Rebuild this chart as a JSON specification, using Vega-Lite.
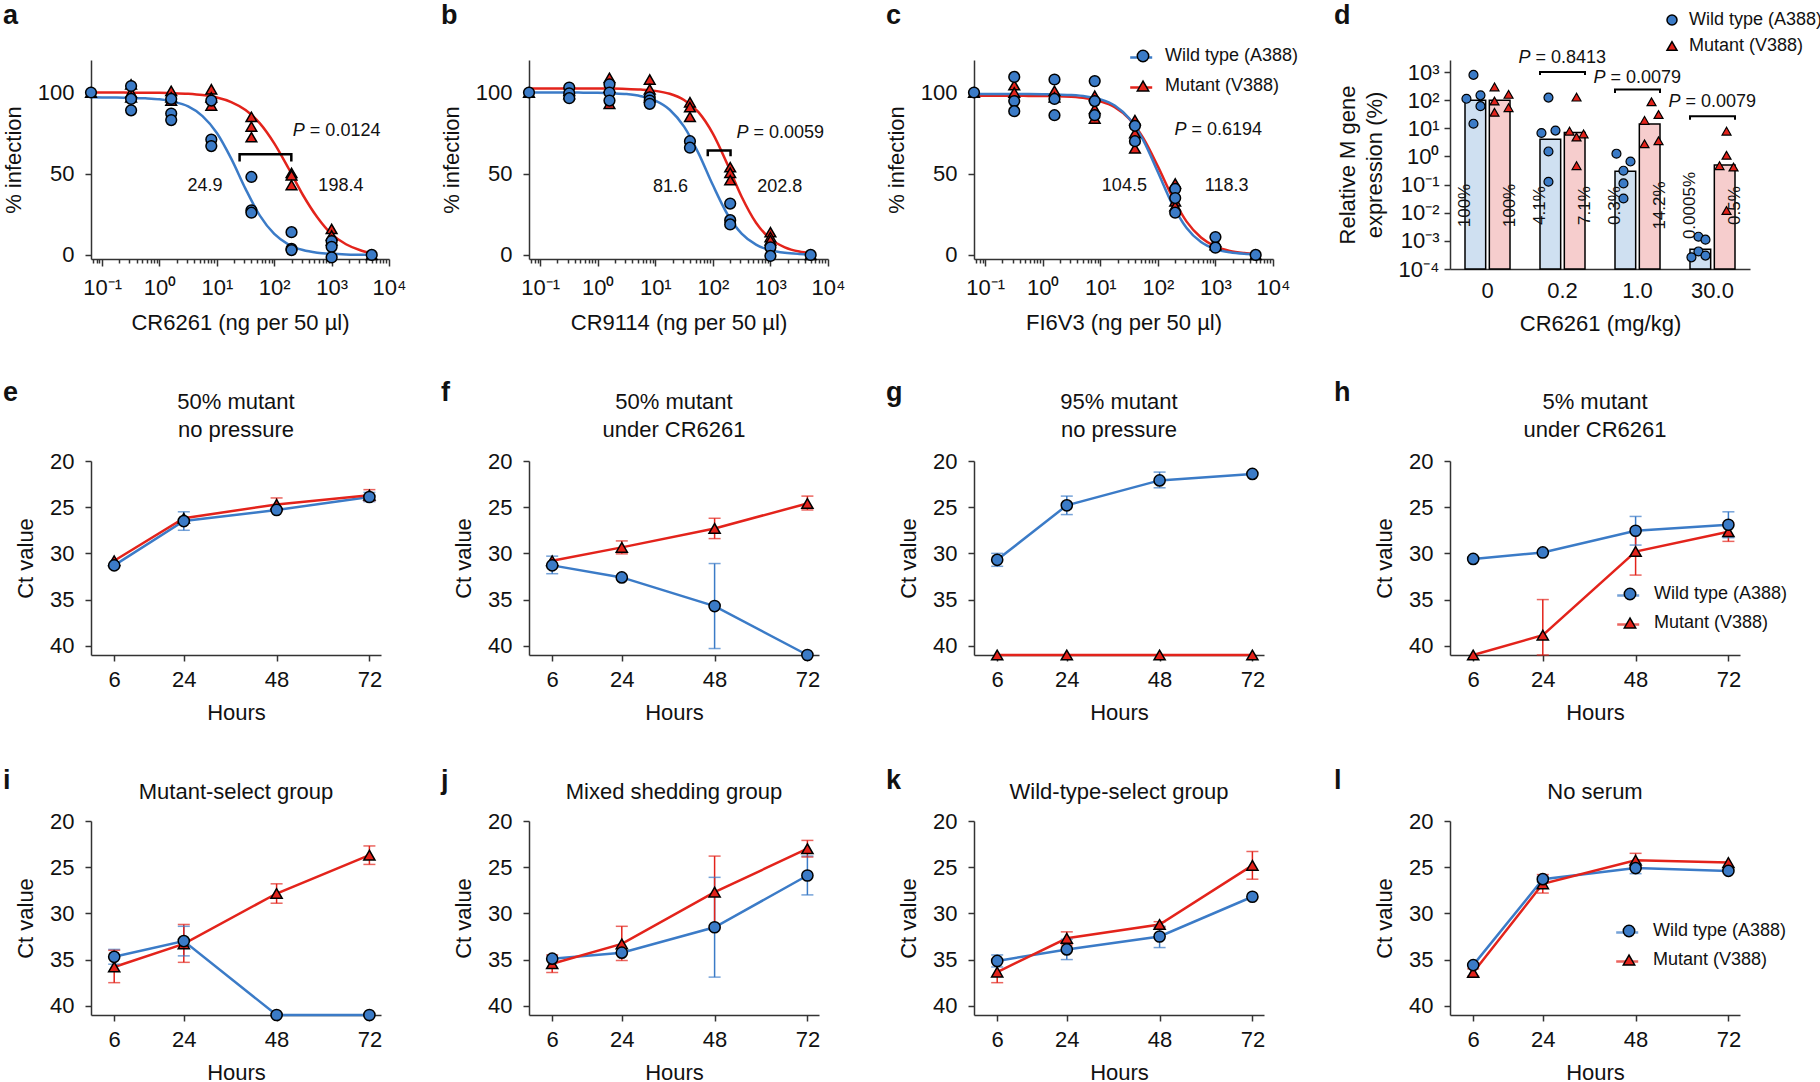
{
"$schema": "https://vega.github.io/schema/vega-lite/v6.json",
"background": "white",
"padding": {"left": 2, "top": 2, "right": 0, "bottom": 0},
"autosize": {"type": "pad"},
"columns": 11,
"spacing": {"row": 0, "column": 0},
"bounds": "flush",
"align": "each",
"resolve": {"scale": {"color": "independent", "fill": "independent", "shape": "independent", "xOffset": "independent"}},
"config": {
  "font": "Liberation Sans",
  "view": {"stroke": null},
  "range": {"category": ["#3b7bc7", "#e3231b"], "symbol": ["circle", "triangle-up"]},
  "axis": {"grid": false, "labelFontSize": 22, "titleFontSize": 22, "titleFontWeight": "normal", "labelColor": "#111", "titleColor": "#111", "domainColor": "#333", "tickColor": "#333", "domainWidth": 1.5, "tickWidth": 1.5, "tickSize": 6, "labelFlush": false, "labelOverlap": false, "labelPadding": 8, "titlePadding": 12},
  "axisY": {"labelPadding": 11, "titlePadding": 12},
  "title": {"fontSize": 22, "fontWeight": "normal", "color": "#111", "lineHeight": 28},
  "legend": {"labelFontSize": 18, "labelColor": "#111", "padding": 0},
  "text": {"color": "#111"}
},
"datasets": {
  "curves": [
    {"p":"a","s":"V388","x":0.064,"y":100},{"p":"a","s":"V388","x":0.1,"y":100},{"p":"a","s":"V388","x":0.178,"y":100},{"p":"a","s":"V388","x":0.316,"y":99.9},{"p":"a","s":"V388","x":0.562,"y":99.9},{"p":"a","s":"V388","x":1,"y":99.8},{"p":"a","s":"V388","x":1.78,"y":99.6},{"p":"a","s":"V388","x":3.16,"y":99.2},{"p":"a","s":"V388","x":5.62,"y":98.4},{"p":"a","s":"V388","x":10,"y":96.9},{"p":"a","s":"V388","x":17.8,"y":94.1},{"p":"a","s":"V388","x":31.6,"y":89.2},{"p":"a","s":"V388","x":56.2,"y":81.0},{"p":"a","s":"V388","x":100,"y":68.7},{"p":"a","s":"V388","x":178,"y":53.2},{"p":"a","s":"V388","x":316,"y":36.9},{"p":"a","s":"V388","x":562,"y":23.2},{"p":"a","s":"V388","x":1000,"y":12.8},{"p":"a","s":"V388","x":1780,"y":6.6},{"p":"a","s":"V388","x":3160,"y":2.9},{"p":"a","s":"V388","x":5000,"y":1.0},
    {"p":"a","s":"A388","x":0.064,"y":97},{"p":"a","s":"A388","x":0.1,"y":96.9},{"p":"a","s":"A388","x":0.178,"y":96.9},{"p":"a","s":"A388","x":0.316,"y":96.7},{"p":"a","s":"A388","x":0.562,"y":96.4},{"p":"a","s":"A388","x":1,"y":95.8},{"p":"a","s":"A388","x":1.78,"y":94.3},{"p":"a","s":"A388","x":3.16,"y":91.4},{"p":"a","s":"A388","x":5.62,"y":85.5},{"p":"a","s":"A388","x":10,"y":75.1},{"p":"a","s":"A388","x":17.8,"y":59.3},{"p":"a","s":"A388","x":31.6,"y":40.7},{"p":"a","s":"A388","x":56.2,"y":24.2},{"p":"a","s":"A388","x":100,"y":12.9},{"p":"a","s":"A388","x":178,"y":6.4},{"p":"a","s":"A388","x":316,"y":3.0},{"p":"a","s":"A388","x":562,"y":1.4},{"p":"a","s":"A388","x":1000,"y":0.7},{"p":"a","s":"A388","x":1780,"y":0.3},{"p":"a","s":"A388","x":3160,"y":0.1},{"p":"a","s":"A388","x":5000,"y":0.1},
    {"p":"b","s":"V388","x":0.064,"y":102.5},{"p":"b","s":"V388","x":0.1,"y":102.5},{"p":"b","s":"V388","x":0.178,"y":102.5},{"p":"b","s":"V388","x":0.316,"y":102.4},{"p":"b","s":"V388","x":0.562,"y":102.4},{"p":"b","s":"V388","x":1,"y":102.4},{"p":"b","s":"V388","x":1.78,"y":102.4},{"p":"b","s":"V388","x":3.16,"y":102.2},{"p":"b","s":"V388","x":5.62,"y":101.8},{"p":"b","s":"V388","x":10,"y":101.0},{"p":"b","s":"V388","x":17.8,"y":99.2},{"p":"b","s":"V388","x":31.6,"y":95.4},{"p":"b","s":"V388","x":56.2,"y":87.9},{"p":"b","s":"V388","x":100,"y":74.7},{"p":"b","s":"V388","x":178,"y":56.0},{"p":"b","s":"V388","x":316,"y":35.8},{"p":"b","s":"V388","x":562,"y":19.8},{"p":"b","s":"V388","x":1000,"y":9.9},{"p":"b","s":"V388","x":1780,"y":4.7},{"p":"b","s":"V388","x":3160,"y":2.1},{"p":"b","s":"V388","x":5000,"y":1.1},
    {"p":"b","s":"A388","x":0.064,"y":100},{"p":"b","s":"A388","x":0.1,"y":100},{"p":"b","s":"A388","x":0.178,"y":100},{"p":"b","s":"A388","x":0.316,"y":100},{"p":"b","s":"A388","x":0.562,"y":99.9},{"p":"b","s":"A388","x":1,"y":99.8},{"p":"b","s":"A388","x":1.78,"y":99.5},{"p":"b","s":"A388","x":3.16,"y":99.0},{"p":"b","s":"A388","x":5.62,"y":97.7},{"p":"b","s":"A388","x":10,"y":95.0},{"p":"b","s":"A388","x":17.8,"y":89.4},{"p":"b","s":"A388","x":31.6,"y":79.0},{"p":"b","s":"A388","x":56.2,"y":62.7},{"p":"b","s":"A388","x":100,"y":43.0},{"p":"b","s":"A388","x":178,"y":25.2},{"p":"b","s":"A388","x":316,"y":13.1},{"p":"b","s":"A388","x":562,"y":6.3},{"p":"b","s":"A388","x":1000,"y":2.9},{"p":"b","s":"A388","x":1780,"y":1.3},{"p":"b","s":"A388","x":3160,"y":0.6},{"p":"b","s":"A388","x":5000,"y":0.3},
    {"p":"c","s":"V388","x":0.064,"y":98},{"p":"c","s":"V388","x":0.1,"y":98},{"p":"c","s":"V388","x":0.178,"y":98},{"p":"c","s":"V388","x":0.316,"y":98},{"p":"c","s":"V388","x":0.562,"y":97.9},{"p":"c","s":"V388","x":1,"y":97.8},{"p":"c","s":"V388","x":1.78,"y":97.7},{"p":"c","s":"V388","x":3.16,"y":97.3},{"p":"c","s":"V388","x":5.62,"y":96.4},{"p":"c","s":"V388","x":10,"y":94.6},{"p":"c","s":"V388","x":17.8,"y":91.0},{"p":"c","s":"V388","x":31.6,"y":83.9},{"p":"c","s":"V388","x":56.2,"y":71.7},{"p":"c","s":"V388","x":100,"y":54.5},{"p":"c","s":"V388","x":178,"y":35.8},{"p":"c","s":"V388","x":316,"y":20.5},{"p":"c","s":"V388","x":562,"y":10.7},{"p":"c","s":"V388","x":1000,"y":5.2},{"p":"c","s":"V388","x":1780,"y":2.5},{"p":"c","s":"V388","x":3160,"y":1.2},{"p":"c","s":"V388","x":5000,"y":0.6},
    {"p":"c","s":"A388","x":0.064,"y":99},{"p":"c","s":"A388","x":0.1,"y":99},{"p":"c","s":"A388","x":0.178,"y":99},{"p":"c","s":"A388","x":0.316,"y":99},{"p":"c","s":"A388","x":0.562,"y":99},{"p":"c","s":"A388","x":1,"y":98.9},{"p":"c","s":"A388","x":1.78,"y":98.7},{"p":"c","s":"A388","x":3.16,"y":98.4},{"p":"c","s":"A388","x":5.62,"y":97.6},{"p":"c","s":"A388","x":10,"y":95.8},{"p":"c","s":"A388","x":17.8,"y":92.0},{"p":"c","s":"A388","x":31.6,"y":84.1},{"p":"c","s":"A388","x":56.2,"y":70.4},{"p":"c","s":"A388","x":100,"y":51.1},{"p":"c","s":"A388","x":178,"y":31.3},{"p":"c","s":"A388","x":316,"y":16.6},{"p":"c","s":"A388","x":562,"y":7.9},{"p":"c","s":"A388","x":1000,"y":3.6},{"p":"c","s":"A388","x":1780,"y":1.6},{"p":"c","s":"A388","x":3160,"y":0.7},{"p":"c","s":"A388","x":5000,"y":0.4}
  ],
  "pts": [
    {"p":"a","s":"V388","x":0.064,"y":100},{"p":"a","s":"V388","x":0.32,"y":105},{"p":"a","s":"V388","x":0.32,"y":100},{"p":"a","s":"V388","x":0.32,"y":97},{"p":"a","s":"V388","x":1.6,"y":101},{"p":"a","s":"V388","x":1.6,"y":97},{"p":"a","s":"V388","x":1.6,"y":95},{"p":"a","s":"V388","x":8,"y":102},{"p":"a","s":"V388","x":8,"y":97},{"p":"a","s":"V388","x":8,"y":92},{"p":"a","s":"V388","x":40,"y":85},{"p":"a","s":"V388","x":40,"y":79},{"p":"a","s":"V388","x":40,"y":72.5},{"p":"a","s":"V388","x":200,"y":50.5},{"p":"a","s":"V388","x":200,"y":49},{"p":"a","s":"V388","x":200,"y":43},{"p":"a","s":"V388","x":1000,"y":16},{"p":"a","s":"V388","x":1000,"y":12},{"p":"a","s":"V388","x":1000,"y":9},{"p":"a","s":"V388","x":5000,"y":0},
    {"p":"a","s":"A388","x":0.064,"y":100},{"p":"a","s":"A388","x":0.32,"y":104},{"p":"a","s":"A388","x":0.32,"y":96},{"p":"a","s":"A388","x":0.32,"y":89},{"p":"a","s":"A388","x":1.6,"y":96},{"p":"a","s":"A388","x":1.6,"y":87},{"p":"a","s":"A388","x":1.6,"y":83},{"p":"a","s":"A388","x":8,"y":95},{"p":"a","s":"A388","x":8,"y":71},{"p":"a","s":"A388","x":8,"y":67},{"p":"a","s":"A388","x":40,"y":48},{"p":"a","s":"A388","x":40,"y":27.5},{"p":"a","s":"A388","x":40,"y":26},{"p":"a","s":"A388","x":200,"y":14},{"p":"a","s":"A388","x":200,"y":3.7},{"p":"a","s":"A388","x":200,"y":3},{"p":"a","s":"A388","x":1000,"y":8.5},{"p":"a","s":"A388","x":1000,"y":5},{"p":"a","s":"A388","x":1000,"y":-1.5},{"p":"a","s":"A388","x":5000,"y":0},
    {"p":"b","s":"V388","x":0.064,"y":100},{"p":"b","s":"V388","x":0.32,"y":101},{"p":"b","s":"V388","x":0.32,"y":99},{"p":"b","s":"V388","x":1.6,"y":109},{"p":"b","s":"V388","x":1.6,"y":103},{"p":"b","s":"V388","x":1.6,"y":93},{"p":"b","s":"V388","x":8,"y":108},{"p":"b","s":"V388","x":8,"y":102},{"p":"b","s":"V388","x":8,"y":97},{"p":"b","s":"V388","x":40,"y":94},{"p":"b","s":"V388","x":40,"y":91},{"p":"b","s":"V388","x":40,"y":85},{"p":"b","s":"V388","x":200,"y":54},{"p":"b","s":"V388","x":200,"y":50.6},{"p":"b","s":"V388","x":200,"y":46},{"p":"b","s":"V388","x":1000,"y":14},{"p":"b","s":"V388","x":1000,"y":11},{"p":"b","s":"V388","x":1000,"y":9},{"p":"b","s":"V388","x":5000,"y":0},
    {"p":"b","s":"A388","x":0.064,"y":100},{"p":"b","s":"A388","x":0.32,"y":103},{"p":"b","s":"A388","x":0.32,"y":99.5},{"p":"b","s":"A388","x":0.32,"y":96.5},{"p":"b","s":"A388","x":1.6,"y":105},{"p":"b","s":"A388","x":1.6,"y":100},{"p":"b","s":"A388","x":1.6,"y":95},{"p":"b","s":"A388","x":8,"y":97},{"p":"b","s":"A388","x":8,"y":95},{"p":"b","s":"A388","x":8,"y":93},{"p":"b","s":"A388","x":40,"y":70},{"p":"b","s":"A388","x":40,"y":66},{"p":"b","s":"A388","x":200,"y":31.6},{"p":"b","s":"A388","x":200,"y":21.4},{"p":"b","s":"A388","x":200,"y":18.8},{"p":"b","s":"A388","x":1000,"y":4.7},{"p":"b","s":"A388","x":1000,"y":-0.6},{"p":"b","s":"A388","x":5000,"y":0},
    {"p":"c","s":"V388","x":0.064,"y":100},{"p":"c","s":"V388","x":0.32,"y":104.5},{"p":"c","s":"V388","x":0.32,"y":100},{"p":"c","s":"V388","x":1.6,"y":101},{"p":"c","s":"V388","x":1.6,"y":97},{"p":"c","s":"V388","x":8,"y":98},{"p":"c","s":"V388","x":8,"y":90},{"p":"c","s":"V388","x":8,"y":84},{"p":"c","s":"V388","x":40,"y":83},{"p":"c","s":"V388","x":40,"y":75},{"p":"c","s":"V388","x":40,"y":65.6},{"p":"c","s":"V388","x":200,"y":44},{"p":"c","s":"V388","x":200,"y":33},{"p":"c","s":"V388","x":200,"y":30},{"p":"c","s":"V388","x":1000,"y":8},{"p":"c","s":"V388","x":1000,"y":6},{"p":"c","s":"V388","x":5000,"y":0},
    {"p":"c","s":"A388","x":0.064,"y":100},{"p":"c","s":"A388","x":0.32,"y":109.6},{"p":"c","s":"A388","x":0.32,"y":94.7},{"p":"c","s":"A388","x":0.32,"y":88.5},{"p":"c","s":"A388","x":1.6,"y":108},{"p":"c","s":"A388","x":1.6,"y":96},{"p":"c","s":"A388","x":1.6,"y":86},{"p":"c","s":"A388","x":8,"y":107},{"p":"c","s":"A388","x":8,"y":94.7},{"p":"c","s":"A388","x":8,"y":86},{"p":"c","s":"A388","x":40,"y":79.5},{"p":"c","s":"A388","x":40,"y":70},{"p":"c","s":"A388","x":200,"y":40.6},{"p":"c","s":"A388","x":200,"y":35},{"p":"c","s":"A388","x":200,"y":26},{"p":"c","s":"A388","x":1000,"y":11},{"p":"c","s":"A388","x":1000,"y":4.5},{"p":"c","s":"A388","x":5000,"y":0}
  ],
  "br": [
    {"p":"a","x":24.9,"y":57.5,"i":0},{"p":"a","x":24.9,"y":62,"i":1},{"p":"a","x":198.4,"y":62,"i":2},{"p":"a","x":198.4,"y":57.5,"i":3},
    {"p":"b","x":81.6,"y":60.8,"i":0},{"p":"b","x":81.6,"y":64.3,"i":1},{"p":"b","x":202.8,"y":64.3,"i":2},{"p":"b","x":202.8,"y":60.8,"i":3}
  ],
  "pv": [
    {"p":"a","x":211,"y":76.5,"t":"= 0.0124"},
    {"p":"b","x":258,"y":75,"t":"= 0.0059"},
    {"p":"c","x":195,"y":76.8,"t":"= 0.6194"}
  ],
  "ic": [
    {"p":"a","x":6.2,"y":42.4,"t":"24.9"},{"p":"a","x":1450,"y":42.4,"t":"198.4"},
    {"p":"b","x":18.3,"y":41.8,"t":"81.6"},{"p":"b","x":1450,"y":41.8,"t":"202.8"},
    {"p":"c","x":26.2,"y":42.4,"t":"104.5"},{"p":"c","x":1570,"y":42.4,"t":"118.3"}
  ],
  "bars": [
    {"g":"0","s":"A388","v":100,"lab":"100%"},{"g":"0","s":"V388","v":100,"lab":"100%"},
    {"g":"0.2","s":"A388","v":4.1,"lab":"4.1%"},{"g":"0.2","s":"V388","v":7.1,"lab":"7.1%"},
    {"g":"1.0","s":"A388","v":0.3,"lab":"0.3%"},{"g":"1.0","s":"V388","v":14.2,"lab":"14.2%"},
    {"g":"30.0","s":"A388","v":0.0005,"lab":"0.0005%"},{"g":"30.0","s":"V388","v":0.5,"lab":"0.5%"}
  ],
  "dots": [
    {"g":"0","s":"A388","k":"AC","v":790},{"g":"0","s":"A388","k":"AL","v":112},{"g":"0","s":"A388","k":"AR","v":148},{"g":"0","s":"A388","k":"AR","v":61},{"g":"0","s":"A388","k":"AC","v":14.5},
    {"g":"0.2","s":"A388","k":"AC","v":123},{"g":"0.2","s":"A388","k":"AL","v":6.8},{"g":"0.2","s":"A388","k":"AR","v":8.3},{"g":"0.2","s":"A388","k":"AC","v":1.5},{"g":"0.2","s":"A388","k":"AC","v":0.126},
    {"g":"1.0","s":"A388","k":"AL","v":1.25},{"g":"1.0","s":"A388","k":"AR","v":0.66},{"g":"1.0","s":"A388","k":"AC","v":0.31},{"g":"1.0","s":"A388","k":"AC","v":0.11},{"g":"1.0","s":"A388","k":"AC","v":0.032},
    {"g":"30.0","s":"A388","k":"AC","v":0.0014},{"g":"30.0","s":"A388","k":"AR","v":0.0011},{"g":"30.0","s":"A388","k":"AC","v":0.00042},{"g":"30.0","s":"A388","k":"AL","v":0.00026},{"g":"30.0","s":"A388","k":"AR","v":0.0003},
    {"g":"0","s":"V388","k":"VL","v":295},{"g":"0","s":"V388","k":"VR","v":160},{"g":"0","s":"V388","k":"VL","v":93},{"g":"0","s":"V388","k":"VL","v":37},{"g":"0","s":"V388","k":"VR","v":54},
    {"g":"0.2","s":"V388","k":"VC","v":128},{"g":"0.2","s":"V388","k":"VL","v":7.9},{"g":"0.2","s":"V388","k":"VR","v":6.3},{"g":"0.2","s":"V388","k":"VC","v":4.9},{"g":"0.2","s":"V388","k":"VC","v":0.47},
    {"g":"1.0","s":"V388","k":"VC","v":88},{"g":"1.0","s":"V388","k":"VL","v":19},{"g":"1.0","s":"V388","k":"VR","v":31},{"g":"1.0","s":"V388","k":"VL","v":2.8},{"g":"1.0","s":"V388","k":"VR","v":3.6},
    {"g":"30.0","s":"V388","k":"VC","v":7.9},{"g":"30.0","s":"V388","k":"VC","v":1.1},{"g":"30.0","s":"V388","k":"VL","v":0.47},{"g":"30.0","s":"V388","k":"VR","v":0.42},{"g":"30.0","s":"V388","k":"VC","v":0.012}
  ],
  "dbr": [
    {"g":"0.2","s":"A388","v":780,"i":0},{"g":"0.2","s":"A388","v":1000,"i":1},{"g":"0.2","s":"V388","v":1000,"i":2},{"g":"0.2","s":"V388","v":780,"i":3},
    {"g":"1.0","s":"A388","v":180,"i":0},{"g":"1.0","s":"A388","v":240,"i":1},{"g":"1.0","s":"V388","v":240,"i":2},{"g":"1.0","s":"V388","v":180,"i":3},
    {"g":"30.0","s":"A388","v":20,"i":0},{"g":"30.0","s":"A388","v":27,"i":1},{"g":"30.0","s":"V388","v":27,"i":2},{"g":"30.0","s":"V388","v":20,"i":3}
  ],
  "dpv": [
    {"g":"0.2","v":3240,"t":"= 0.8413"},{"g":"1.0","v":630,"t":"= 0.0079"},{"g":"30.0","v":85,"t":"= 0.0079"}
  ],
  "ct": [
    {"p":"e","s":"A388","h":6,"ct":31.3},{"p":"e","s":"A388","h":24,"ct":26.5,"lo":25.5,"hi":27.5},{"p":"e","s":"A388","h":48,"ct":25.3},{"p":"e","s":"A388","h":72,"ct":23.9,"lo":23.4,"hi":24.4},
    {"p":"e","s":"V388","h":6,"ct":30.8},{"p":"e","s":"V388","h":24,"ct":26.2},{"p":"e","s":"V388","h":48,"ct":24.7,"lo":24.0,"hi":25.4},{"p":"e","s":"V388","h":72,"ct":23.7,"lo":23.1,"hi":24.3},
    {"p":"f","s":"A388","h":6,"ct":31.3,"lo":30.3,"hi":32.2},{"p":"f","s":"A388","h":24,"ct":32.6},{"p":"f","s":"A388","h":48,"ct":35.7,"lo":31.1,"hi":40.3},{"p":"f","s":"A388","h":72,"ct":41},
    {"p":"f","s":"V388","h":6,"ct":30.8},{"p":"f","s":"V388","h":24,"ct":29.35,"lo":28.65,"hi":30.05},{"p":"f","s":"V388","h":48,"ct":27.3,"lo":26.2,"hi":28.4},{"p":"f","s":"V388","h":72,"ct":24.6,"lo":23.8,"hi":25.3},
    {"p":"g","s":"A388","h":6,"ct":30.7,"lo":30.0,"hi":31.4},{"p":"g","s":"A388","h":24,"ct":24.8,"lo":23.8,"hi":25.8},{"p":"g","s":"A388","h":48,"ct":22.1,"lo":21.2,"hi":22.9},{"p":"g","s":"A388","h":72,"ct":21.4},
    {"p":"g","s":"V388","h":6,"ct":41},{"p":"g","s":"V388","h":24,"ct":41},{"p":"g","s":"V388","h":48,"ct":41},{"p":"g","s":"V388","h":72,"ct":41},
    {"p":"h","s":"A388","h":6,"ct":30.6},{"p":"h","s":"A388","h":24,"ct":29.9},{"p":"h","s":"A388","h":48,"ct":27.55,"lo":26.0,"hi":29.1},{"p":"h","s":"A388","h":72,"ct":26.9,"lo":25.5,"hi":28.3},
    {"p":"h","s":"V388","h":6,"ct":41},{"p":"h","s":"V388","h":24,"ct":38.85,"lo":35.0,"hi":41},{"p":"h","s":"V388","h":48,"ct":29.8,"lo":27.3,"hi":32.35},{"p":"h","s":"V388","h":72,"ct":27.65,"lo":26.7,"hi":28.7},
    {"p":"i","s":"A388","h":6,"ct":34.7,"lo":33.9,"hi":35.5},{"p":"i","s":"A388","h":24,"ct":33.0,"lo":31.4,"hi":34.6},{"p":"i","s":"A388","h":48,"ct":41},{"p":"i","s":"A388","h":72,"ct":41},
    {"p":"i","s":"V388","h":6,"ct":35.8,"lo":34.0,"hi":37.5},{"p":"i","s":"V388","h":24,"ct":33.3,"lo":31.2,"hi":35.3},{"p":"i","s":"V388","h":48,"ct":27.85,"lo":26.8,"hi":28.9},{"p":"i","s":"V388","h":72,"ct":23.7,"lo":22.7,"hi":24.7},
    {"p":"j","s":"A388","h":6,"ct":34.9},{"p":"j","s":"A388","h":24,"ct":34.25},{"p":"j","s":"A388","h":48,"ct":31.5,"lo":26.1,"hi":36.9},{"p":"j","s":"A388","h":72,"ct":25.9,"lo":23.8,"hi":28.0},
    {"p":"j","s":"V388","h":6,"ct":35.45,"lo":34.5,"hi":36.4},{"p":"j","s":"V388","h":24,"ct":33.3,"lo":31.4,"hi":35.1},{"p":"j","s":"V388","h":48,"ct":27.7,"lo":23.8,"hi":31.6},{"p":"j","s":"V388","h":72,"ct":23.0,"lo":22.1,"hi":23.9},
    {"p":"k","s":"A388","h":6,"ct":35.15,"lo":34.5,"hi":35.8},{"p":"k","s":"A388","h":24,"ct":33.9,"lo":32.8,"hi":35.0},{"p":"k","s":"A388","h":48,"ct":32.5,"lo":31.4,"hi":33.7},{"p":"k","s":"A388","h":72,"ct":28.2},
    {"p":"k","s":"V388","h":6,"ct":36.35,"lo":35.2,"hi":37.5},{"p":"k","s":"V388","h":24,"ct":32.7,"lo":32.0,"hi":33.4},{"p":"k","s":"V388","h":48,"ct":31.2,"lo":30.9,"hi":31.5},{"p":"k","s":"V388","h":72,"ct":24.8,"lo":23.3,"hi":26.3},
    {"p":"l","s":"A388","h":6,"ct":35.6},{"p":"l","s":"A388","h":24,"ct":26.3,"lo":26.0,"hi":26.6},{"p":"l","s":"A388","h":48,"ct":25.1,"lo":24.6,"hi":25.7},{"p":"l","s":"A388","h":72,"ct":25.4},
    {"p":"l","s":"V388","h":6,"ct":36.4,"lo":36.0,"hi":36.8},{"p":"l","s":"V388","h":24,"ct":26.8,"lo":25.8,"hi":27.8},{"p":"l","s":"V388","h":48,"ct":24.25,"lo":23.5,"hi":25.0},{"p":"l","s":"V388","h":72,"ct":24.5}
  ]
},
"concat": [
  {"width":88,"height":199,"data":{"values":[]},"mark":"point","title":{"text":"a","anchor":"start","fontSize":27,"fontWeight":"bold","offset":30}},
  {"width":298,"height":199,
   "encoding":{
     "x":{"field":"x","type":"quantitative","scale":{"type":"log","domain":[0.064,10000],"nice":false},"axis":{"values":[0.07,0.08,0.09,0.1,0.2,0.3,0.4,0.5,0.6,0.7,0.8,0.9,1,2,3,4,5,6,7,8,9,10,20,30,40,50,60,70,80,90,100,200,300,400,500,600,700,800,900,1000,2000,3000,4000,5000,6000,7000,8000,9000,10000],"labelExpr":"datum.value == 0.1 ? '10⁻¹' : datum.value == 1 ? '10⁰' : datum.value == 10 ? '10¹' : datum.value == 100 ? '10²' : datum.value == 1000 ? '10³' : datum.value == 10000 ? '10⁴' : ''","tickSize":{"condition":{"test":"datum.value == 0.1 || datum.value == 1 || datum.value == 10 || datum.value == 100 || datum.value == 1000 || datum.value == 10000","value":7},"value":4},"labelPadding":11,"titlePadding":14,"title":"CR6261 (ng per 50 µl)"}},
     "y":{"field":"y","type":"quantitative","scale":{"domain":[-2.5,120],"nice":false,"zero":false},"axis":{"values":[0,50,100],"title":"% infection"}}},
   "layer":[
     {"data":{"values":[{}]},"mark":{"type":"rule","strokeDash":[2,2],"strokeWidth":1.5,"color":"black"},"encoding":{"x":{"datum":0.064},"x2":{"datum":10000},"y":{"datum":50}}},
     {"data":{"name":"curves"},"transform":[{"filter":"datum.p=='a'"}],"mark":{"type":"line","strokeWidth":2.5,"interpolate":"monotone"},"encoding":{"color":{"field":"s","type":"nominal","legend":null}}},
     {"data":{"name":"br"},"transform":[{"filter":"datum.p=='a'"}],"mark":{"type":"line","color":"black","strokeWidth":2.5},"encoding":{"order":{"field":"i","type":"quantitative"}}},
     {"data":{"name":"pts"},"transform":[{"filter":"datum.p=='a'"}],"mark":{"type":"point","filled":true,"size":115,"stroke":"black","strokeWidth":1.5,"opacity":1},"encoding":{"fill":{"field":"s","type":"nominal","legend":null},"shape":{"field":"s","type":"nominal","legend":null},"order":{"field":"s","type":"ordinal","sort":"descending"}}},
     {"data":{"name":"pv"},"transform":[{"filter":"datum.p=='a'"}],"mark":{"type":"text","text":"P","fontStyle":"italic","align":"left","baseline":"middle","fontSize":18}},
     {"data":{"name":"pv"},"transform":[{"filter":"datum.p=='a'"}],"mark":{"type":"text","align":"left","baseline":"middle","fontSize":18,"dx":17},"encoding":{"text":{"field":"t"}}},
     {"data":{"name":"ic"},"transform":[{"filter":"datum.p=='a'"}],"mark":{"type":"text","align":"center","baseline":"middle","fontSize":18},"encoding":{"text":{"field":"t"}}}
   ]},
  {"width":52,"height":199,"data":{"values":[]},"mark":"point"},
  {"width":88,"height":199,"data":{"values":[]},"mark":"point","title":{"text":"b","anchor":"start","fontSize":27,"fontWeight":"bold","offset":30}},
  {"width":299,"height":199,
   "encoding":{
     "x":{"field":"x","type":"quantitative","scale":{"type":"log","domain":[0.064,10000],"nice":false},"axis":{"values":[0.07,0.08,0.09,0.1,0.2,0.3,0.4,0.5,0.6,0.7,0.8,0.9,1,2,3,4,5,6,7,8,9,10,20,30,40,50,60,70,80,90,100,200,300,400,500,600,700,800,900,1000,2000,3000,4000,5000,6000,7000,8000,9000,10000],"labelExpr":"datum.value == 0.1 ? '10⁻¹' : datum.value == 1 ? '10⁰' : datum.value == 10 ? '10¹' : datum.value == 100 ? '10²' : datum.value == 1000 ? '10³' : datum.value == 10000 ? '10⁴' : ''","tickSize":{"condition":{"test":"datum.value == 0.1 || datum.value == 1 || datum.value == 10 || datum.value == 100 || datum.value == 1000 || datum.value == 10000","value":7},"value":4},"labelPadding":11,"titlePadding":14,"title":"CR9114 (ng per 50 µl)"}},
     "y":{"field":"y","type":"quantitative","scale":{"domain":[-2.5,120],"nice":false,"zero":false},"axis":{"values":[0,50,100],"title":"% infection"}}},
   "layer":[
     {"data":{"values":[{}]},"mark":{"type":"rule","strokeDash":[2,2],"strokeWidth":1.5,"color":"black"},"encoding":{"x":{"datum":0.064},"x2":{"datum":10000},"y":{"datum":50}}},
     {"data":{"name":"curves"},"transform":[{"filter":"datum.p=='b'"}],"mark":{"type":"line","strokeWidth":2.5,"interpolate":"monotone"},"encoding":{"color":{"field":"s","type":"nominal","legend":null}}},
     {"data":{"name":"br"},"transform":[{"filter":"datum.p=='b'"}],"mark":{"type":"line","color":"black","strokeWidth":2.5},"encoding":{"order":{"field":"i","type":"quantitative"}}},
     {"data":{"name":"pts"},"transform":[{"filter":"datum.p=='b'"}],"mark":{"type":"point","filled":true,"size":115,"stroke":"black","strokeWidth":1.5,"opacity":1},"encoding":{"fill":{"field":"s","type":"nominal","legend":null},"shape":{"field":"s","type":"nominal","legend":null},"order":{"field":"s","type":"ordinal","sort":"descending"}}},
     {"data":{"name":"pv"},"transform":[{"filter":"datum.p=='b'"}],"mark":{"type":"text","text":"P","fontStyle":"italic","align":"left","baseline":"middle","fontSize":18}},
     {"data":{"name":"pv"},"transform":[{"filter":"datum.p=='b'"}],"mark":{"type":"text","align":"left","baseline":"middle","fontSize":18,"dx":17},"encoding":{"text":{"field":"t"}}},
     {"data":{"name":"ic"},"transform":[{"filter":"datum.p=='b'"}],"mark":{"type":"text","align":"center","baseline":"middle","fontSize":18},"encoding":{"text":{"field":"t"}}}
   ]},
  {"width":58,"height":199,"data":{"values":[]},"mark":"point"},
  {"width":88,"height":199,"data":{"values":[]},"mark":"point","title":{"text":"c","anchor":"start","fontSize":27,"fontWeight":"bold","offset":30}},
  {"width":299,"height":199,
   "encoding":{
     "x":{"field":"x","type":"quantitative","scale":{"type":"log","domain":[0.064,10000],"nice":false},"axis":{"values":[0.07,0.08,0.09,0.1,0.2,0.3,0.4,0.5,0.6,0.7,0.8,0.9,1,2,3,4,5,6,7,8,9,10,20,30,40,50,60,70,80,90,100,200,300,400,500,600,700,800,900,1000,2000,3000,4000,5000,6000,7000,8000,9000,10000],"labelExpr":"datum.value == 0.1 ? '10⁻¹' : datum.value == 1 ? '10⁰' : datum.value == 10 ? '10¹' : datum.value == 100 ? '10²' : datum.value == 1000 ? '10³' : datum.value == 10000 ? '10⁴' : ''","tickSize":{"condition":{"test":"datum.value == 0.1 || datum.value == 1 || datum.value == 10 || datum.value == 100 || datum.value == 1000 || datum.value == 10000","value":7},"value":4},"labelPadding":11,"titlePadding":14,"title":"FI6V3 (ng per 50 µl)"}},
     "y":{"field":"y","type":"quantitative","scale":{"domain":[-2.5,120],"nice":false,"zero":false},"axis":{"values":[0,50,100],"title":"% infection"}}},
   "layer":[
     {"data":{"values":[{}]},"mark":{"type":"rule","strokeDash":[2,2],"strokeWidth":1.5,"color":"black"},"encoding":{"x":{"datum":0.064},"x2":{"datum":10000},"y":{"datum":50}}},
     {"data":{"name":"curves"},"transform":[{"filter":"datum.p=='c'"}],"mark":{"type":"line","strokeWidth":2.5,"interpolate":"monotone"},"encoding":{"color":{"field":"s","type":"nominal","legend":{"title":null,"orient":"none","legendX":154.7,"legendY":-15,"symbolType":"stroke","symbolSize":484,"symbolStrokeWidth":2.5,"rowPadding":8,"labelExpr":"''","labelOffset":13}}}},
     {"data":{"name":"pts"},"transform":[{"filter":"datum.p=='c'"}],"mark":{"type":"point","filled":true,"size":115,"stroke":"black","strokeWidth":1.5,"opacity":1},"encoding":{
        "fill":{"field":"s","type":"nominal","legend":{"title":null,"orient":"none","legendX":160,"legendY":-13,"labelExpr":"datum.label == 'A388' ? 'Wild type (A388)' : 'Mutant (V388)'","symbolSize":130,"rowPadding":12,"labelOffset":13,"encode":{"symbols":{"stroke":{"value":"black"},"strokeWidth":{"value":1.4}}}}},
        "shape":{"field":"s","type":"nominal","legend":{"title":null,"orient":"none","legendX":160,"legendY":-13,"labelExpr":"datum.label == 'A388' ? 'Wild type (A388)' : 'Mutant (V388)'","symbolSize":130,"rowPadding":12,"labelOffset":13,"encode":{"symbols":{"stroke":{"value":"black"},"strokeWidth":{"value":1.4}}}}},
        "order":{"field":"s","type":"ordinal","sort":"descending"}}},
     {"data":{"name":"pv"},"transform":[{"filter":"datum.p=='c'"}],"mark":{"type":"text","text":"P","fontStyle":"italic","align":"left","baseline":"middle","fontSize":18}},
     {"data":{"name":"pv"},"transform":[{"filter":"datum.p=='c'"}],"mark":{"type":"text","align":"left","baseline":"middle","fontSize":18,"dx":17},"encoding":{"text":{"field":"t"}}},
     {"data":{"name":"ic"},"transform":[{"filter":"datum.p=='c'"}],"mark":{"type":"text","align":"center","baseline":"middle","fontSize":18},"encoding":{"text":{"field":"t"}}}
   ]},
  {"width":61,"height":199,"data":{"values":[]},"mark":"point"},
  {"width":116,"height":199,"data":{"values":[]},"mark":"point","title":{"text":"d","anchor":"start","fontSize":27,"fontWeight":"bold","offset":30}},
  {"width":300,"height":209,
   "resolve":{"scale":{"xOffset":"independent"}},
   "encoding":{
     "x":{"field":"g","type":"nominal","scale":{"domain":["0","0.2","1.0","30.0"],"paddingInner":0.4,"paddingOuter":0.2},"axis":{"title":"CR6261 (mg/kg)","ticks":false,"labelAngle":0,"labelPadding":11,"titlePadding":12}},
     "y":{"field":"v","type":"quantitative","scale":{"type":"log","domain":[0.0001,2670],"nice":false},"axis":{"values":[1000,100,10,1,0.1,0.01,0.001,0.0001],"labelExpr":"datum.value >= 999 ? '10³' : datum.value >= 99 ? '10²' : datum.value >= 9 ? '10¹' : datum.value >= 0.9 ? '10⁰' : datum.value >= 0.09 ? '10⁻¹' : datum.value >= 0.009 ? '10⁻²' : datum.value >= 0.0009 ? '10⁻³' : '10⁻⁴'","title":["Relative M gene","expression (%)"],"titleLineHeight":27,"labelPadding":5,"titlePadding":12}}},
   "layer":[
     {"data":{"name":"bars"},"mark":{"type":"bar","stroke":"black","strokeWidth":1.5},"encoding":{"xOffset":{"field":"s","type":"nominal","scale":{"paddingInner":0.15,"paddingOuter":0}},"y2":{"datum":0.0001},"color":{"field":"s","type":"nominal","scale":{"domain":["A388","V388"],"range":["#cfe0f1","#f6cdcd"]},"legend":null}}},
     {"data":{"name":"bars"},"mark":{"type":"text","angle":270,"fontSize":17,"align":"center","baseline":"middle"},"encoding":{"xOffset":{"field":"s","type":"nominal","scale":{"paddingInner":0.15,"paddingOuter":0}},"y":{"datum":0.018},"text":{"field":"lab"}}},
     {"data":{"name":"dbr"},"mark":{"type":"line","color":"black","strokeWidth":2},"encoding":{"xOffset":{"field":"s","type":"nominal","scale":{"paddingInner":0.15,"paddingOuter":0}},"detail":{"field":"g"},"order":{"field":"i","type":"quantitative"}}},
     {"data":{"name":"dots"},"mark":{"type":"point","filled":true,"size":80,"stroke":"black","strokeWidth":1.2,"opacity":1},"encoding":{
        "xOffset":{"field":"k","type":"nominal","scale":{"domain":["AL","AC","AR","gap","VL","VC","VR"],"paddingInner":0,"paddingOuter":0.206}},
        "fill":{"field":"s","type":"nominal","legend":{"title":null,"orient":"none","legendX":213,"legendY":-49,"labelExpr":"datum.label == 'A388' ? 'Wild type (A388)' : 'Mutant (V388)'","symbolSize":100,"rowPadding":8,"labelOffset":8,"encode":{"symbols":{"stroke":{"value":"black"},"strokeWidth":{"value":1.2}}}}},
        "shape":{"field":"s","type":"nominal","legend":{"title":null,"orient":"none","legendX":213,"legendY":-49,"labelExpr":"datum.label == 'A388' ? 'Wild type (A388)' : 'Mutant (V388)'","symbolSize":100,"rowPadding":8,"labelOffset":8,"encode":{"symbols":{"stroke":{"value":"black"},"strokeWidth":{"value":1.2}}}}}}},
     {"data":{"name":"dpv"},"mark":{"type":"text","text":"P","fontStyle":"italic","align":"left","baseline":"middle","fontSize":18,"dx":-44}},
     {"data":{"name":"dpv"},"mark":{"type":"text","align":"left","baseline":"middle","fontSize":18,"dx":-27},"encoding":{"text":{"field":"t"}}}
   ]},

  {"width":1,"height":192,"data":{"values":[]},"mark":"point"},
  {"width":1,"height":192,"data":{"values":[]},"mark":"point"},
  {"width":1,"height":192,"data":{"values":[]},"mark":"point"},
  {"width":1,"height":192,"data":{"values":[]},"mark":"point"},
  {"width":1,"height":192,"data":{"values":[]},"mark":"point"},
  {"width":1,"height":192,"data":{"values":[]},"mark":"point"},
  {"width":1,"height":192,"data":{"values":[]},"mark":"point"},
  {"width":1,"height":192,"data":{"values":[]},"mark":"point"},
  {"width":1,"height":192,"data":{"values":[]},"mark":"point"},
  {"width":1,"height":192,"data":{"values":[]},"mark":"point"},
  {"width":1,"height":192,"data":{"values":[]},"mark":"point"},

  {"width":88,"height":194,"data":{"values":[]},"mark":"point","title":{"text":"e","anchor":"start","fontSize":27,"fontWeight":"bold","offset":54}},
  {"width":290,"height":194,"title":{"text":["50% mutant","no pressure"],"offset":8},"data":{"name":"ct"},
   "encoding":{"x":{"field":"h","type":"quantitative","scale":{"domain":[0,75]},"axis":{"values":[6,24,48,72],"title":"Hours"}},"y":{"field":"ct","type":"quantitative","scale":{"domain":[20,41],"reverse":true,"nice":false,"zero":false},"axis":{"values":[20,25,30,35,40],"title":"Ct value"}}},
   "layer":[
     {"data":{"values":[{}]},"mark":{"type":"rule","strokeDash":[2,2],"strokeWidth":1.5,"color":"black"},"encoding":{"x":{"datum":0},"x2":{"datum":75},"y":{"datum":40}}},
     {"transform":[{"filter":"datum.p=='e'"}],"mark":{"type":"line","strokeWidth":2.5},"encoding":{"color":{"field":"s","type":"nominal","legend":null}}},
     {"transform":[{"filter":"datum.p=='e' && isValid(datum.lo)"}],"mark":{"type":"rule","strokeWidth":1.5},"encoding":{"y":{"field":"lo","type":"quantitative"},"y2":{"field":"hi"},"color":{"field":"s","type":"nominal","legend":null}}},
     {"transform":[{"filter":"datum.p=='e' && isValid(datum.lo)"}],"mark":{"type":"tick","orient":"horizontal","size":12,"thickness":1.5},"encoding":{"y":{"field":"lo","type":"quantitative"},"color":{"field":"s","type":"nominal","legend":null}}},
     {"transform":[{"filter":"datum.p=='e' && isValid(datum.lo)"}],"mark":{"type":"tick","orient":"horizontal","size":12,"thickness":1.5},"encoding":{"y":{"field":"hi","type":"quantitative"},"color":{"field":"s","type":"nominal","legend":null}}},
     {"transform":[{"filter":"datum.p=='e'"}],"mark":{"type":"point","filled":true,"size":125,"stroke":"black","strokeWidth":1.5,"opacity":1},"encoding":{"fill":{"field":"s","type":"nominal","legend":null},"shape":{"field":"s","type":"nominal","legend":null},"order":{"field":"s","type":"ordinal","sort":"descending"}}}
   ]},
  {"width":52,"height":194,"data":{"values":[]},"mark":"point"},
  {"width":88,"height":194,"data":{"values":[]},"mark":"point","title":{"text":"f","anchor":"start","fontSize":27,"fontWeight":"bold","offset":54}},
  {"width":290,"height":194,"title":{"text":["50% mutant","under CR6261"],"offset":8},"data":{"name":"ct"},
   "encoding":{"x":{"field":"h","type":"quantitative","scale":{"domain":[0,75]},"axis":{"values":[6,24,48,72],"title":"Hours"}},"y":{"field":"ct","type":"quantitative","scale":{"domain":[20,41],"reverse":true,"nice":false,"zero":false},"axis":{"values":[20,25,30,35,40],"title":"Ct value"}}},
   "layer":[
     {"data":{"values":[{}]},"mark":{"type":"rule","strokeDash":[2,2],"strokeWidth":1.5,"color":"black"},"encoding":{"x":{"datum":0},"x2":{"datum":75},"y":{"datum":40}}},
     {"transform":[{"filter":"datum.p=='f'"}],"mark":{"type":"line","strokeWidth":2.5},"encoding":{"color":{"field":"s","type":"nominal","legend":null}}},
     {"transform":[{"filter":"datum.p=='f' && isValid(datum.lo)"}],"mark":{"type":"rule","strokeWidth":1.5},"encoding":{"y":{"field":"lo","type":"quantitative"},"y2":{"field":"hi"},"color":{"field":"s","type":"nominal","legend":null}}},
     {"transform":[{"filter":"datum.p=='f' && isValid(datum.lo)"}],"mark":{"type":"tick","orient":"horizontal","size":12,"thickness":1.5},"encoding":{"y":{"field":"lo","type":"quantitative"},"color":{"field":"s","type":"nominal","legend":null}}},
     {"transform":[{"filter":"datum.p=='f' && isValid(datum.lo)"}],"mark":{"type":"tick","orient":"horizontal","size":12,"thickness":1.5},"encoding":{"y":{"field":"hi","type":"quantitative"},"color":{"field":"s","type":"nominal","legend":null}}},
     {"transform":[{"filter":"datum.p=='f'"}],"mark":{"type":"point","filled":true,"size":125,"stroke":"black","strokeWidth":1.5,"opacity":1},"encoding":{"fill":{"field":"s","type":"nominal","legend":null},"shape":{"field":"s","type":"nominal","legend":null},"order":{"field":"s","type":"ordinal","sort":"descending"}}}
   ]},
  {"width":58,"height":194,"data":{"values":[]},"mark":"point"},
  {"width":88,"height":194,"data":{"values":[]},"mark":"point","title":{"text":"g","anchor":"start","fontSize":27,"fontWeight":"bold","offset":54}},
  {"width":290,"height":194,"title":{"text":["95% mutant","no pressure"],"offset":8},"data":{"name":"ct"},
   "encoding":{"x":{"field":"h","type":"quantitative","scale":{"domain":[0,75]},"axis":{"values":[6,24,48,72],"title":"Hours"}},"y":{"field":"ct","type":"quantitative","scale":{"domain":[20,41],"reverse":true,"nice":false,"zero":false},"axis":{"values":[20,25,30,35,40],"title":"Ct value"}}},
   "layer":[
     {"data":{"values":[{}]},"mark":{"type":"rule","strokeDash":[2,2],"strokeWidth":1.5,"color":"black"},"encoding":{"x":{"datum":0},"x2":{"datum":75},"y":{"datum":40}}},
     {"transform":[{"filter":"datum.p=='g'"}],"mark":{"type":"line","strokeWidth":2.5},"encoding":{"color":{"field":"s","type":"nominal","legend":null}}},
     {"transform":[{"filter":"datum.p=='g' && isValid(datum.lo)"}],"mark":{"type":"rule","strokeWidth":1.5},"encoding":{"y":{"field":"lo","type":"quantitative"},"y2":{"field":"hi"},"color":{"field":"s","type":"nominal","legend":null}}},
     {"transform":[{"filter":"datum.p=='g' && isValid(datum.lo)"}],"mark":{"type":"tick","orient":"horizontal","size":12,"thickness":1.5},"encoding":{"y":{"field":"lo","type":"quantitative"},"color":{"field":"s","type":"nominal","legend":null}}},
     {"transform":[{"filter":"datum.p=='g' && isValid(datum.lo)"}],"mark":{"type":"tick","orient":"horizontal","size":12,"thickness":1.5},"encoding":{"y":{"field":"hi","type":"quantitative"},"color":{"field":"s","type":"nominal","legend":null}}},
     {"transform":[{"filter":"datum.p=='g'"}],"mark":{"type":"point","filled":true,"size":125,"stroke":"black","strokeWidth":1.5,"opacity":1},"encoding":{"fill":{"field":"s","type":"nominal","legend":null},"shape":{"field":"s","type":"nominal","legend":null},"order":{"field":"s","type":"ordinal","sort":"descending"}}}
   ]},
  {"width":61,"height":194,"data":{"values":[]},"mark":"point"},
  {"width":116,"height":194,"data":{"values":[]},"mark":"point","title":{"text":"h","anchor":"start","fontSize":27,"fontWeight":"bold","offset":54}},
  {"width":290,"height":194,"title":{"text":["5% mutant","under CR6261"],"offset":8},"data":{"name":"ct"},
   "encoding":{"x":{"field":"h","type":"quantitative","scale":{"domain":[0,75]},"axis":{"values":[6,24,48,72],"title":"Hours"}},"y":{"field":"ct","type":"quantitative","scale":{"domain":[20,41],"reverse":true,"nice":false,"zero":false},"axis":{"values":[20,25,30,35,40],"title":"Ct value"}}},
   "layer":[
     {"data":{"values":[{}]},"mark":{"type":"rule","strokeDash":[2,2],"strokeWidth":1.5,"color":"black"},"encoding":{"x":{"datum":0},"x2":{"datum":75},"y":{"datum":40}}},
     {"transform":[{"filter":"datum.p=='h'"}],"mark":{"type":"line","strokeWidth":2.5},"encoding":{"color":{"field":"s","type":"nominal","legend":{"title":null,"orient":"none","legendX":165.7,"legendY":122,"symbolType":"stroke","symbolSize":484,"symbolStrokeWidth":2.5,"rowPadding":7,"labelExpr":"''","labelOffset":15}}}},
     {"transform":[{"filter":"datum.p=='h' && isValid(datum.lo)"}],"mark":{"type":"rule","strokeWidth":1.5},"encoding":{"y":{"field":"lo","type":"quantitative"},"y2":{"field":"hi"},"color":{"field":"s","type":"nominal"}}},
     {"transform":[{"filter":"datum.p=='h' && isValid(datum.lo)"}],"mark":{"type":"tick","orient":"horizontal","size":12,"thickness":1.5},"encoding":{"y":{"field":"lo","type":"quantitative"},"color":{"field":"s","type":"nominal"}}},
     {"transform":[{"filter":"datum.p=='h' && isValid(datum.lo)"}],"mark":{"type":"tick","orient":"horizontal","size":12,"thickness":1.5},"encoding":{"y":{"field":"hi","type":"quantitative"},"color":{"field":"s","type":"nominal"}}},
     {"transform":[{"filter":"datum.p=='h'"}],"mark":{"type":"point","filled":true,"size":125,"stroke":"black","strokeWidth":1.5,"opacity":1},"encoding":{
        "fill":{"field":"s","type":"nominal","legend":{"title":null,"orient":"none","legendX":171,"legendY":124,"labelExpr":"datum.label == 'A388' ? 'Wild type (A388)' : 'Mutant (V388)'","symbolSize":130,"rowPadding":11,"labelOffset":15,"encode":{"symbols":{"stroke":{"value":"black"},"strokeWidth":{"value":1.4}}}}},
        "shape":{"field":"s","type":"nominal","legend":{"title":null,"orient":"none","legendX":171,"legendY":124,"labelExpr":"datum.label == 'A388' ? 'Wild type (A388)' : 'Mutant (V388)'","symbolSize":130,"rowPadding":11,"labelOffset":15,"encode":{"symbols":{"stroke":{"value":"black"},"strokeWidth":{"value":1.4}}}}},
        "order":{"field":"s","type":"ordinal","sort":"descending"}}}
   ]},

  {"width":1,"height":166,"data":{"values":[]},"mark":"point"},
  {"width":1,"height":166,"data":{"values":[]},"mark":"point"},
  {"width":1,"height":166,"data":{"values":[]},"mark":"point"},
  {"width":1,"height":166,"data":{"values":[]},"mark":"point"},
  {"width":1,"height":166,"data":{"values":[]},"mark":"point"},
  {"width":1,"height":166,"data":{"values":[]},"mark":"point"},
  {"width":1,"height":166,"data":{"values":[]},"mark":"point"},
  {"width":1,"height":166,"data":{"values":[]},"mark":"point"},
  {"width":1,"height":166,"data":{"values":[]},"mark":"point"},
  {"width":1,"height":166,"data":{"values":[]},"mark":"point"},
  {"width":1,"height":166,"data":{"values":[]},"mark":"point"},

  {"width":88,"height":194,"data":{"values":[]},"mark":"point","title":{"text":"i","anchor":"start","fontSize":27,"fontWeight":"bold","offset":26}},
  {"width":290,"height":194,"title":{"text":"Mutant-select group","offset":6},"data":{"name":"ct"},
   "encoding":{"x":{"field":"h","type":"quantitative","scale":{"domain":[0,75]},"axis":{"values":[6,24,48,72],"title":"Hours"}},"y":{"field":"ct","type":"quantitative","scale":{"domain":[20,41],"reverse":true,"nice":false,"zero":false},"axis":{"values":[20,25,30,35,40],"title":"Ct value"}}},
   "layer":[
     {"data":{"values":[{}]},"mark":{"type":"rule","strokeDash":[2,2],"strokeWidth":1.5,"color":"black"},"encoding":{"x":{"datum":0},"x2":{"datum":75},"y":{"datum":40}}},
     {"transform":[{"filter":"datum.p=='i'"}],"mark":{"type":"line","strokeWidth":2.5},"encoding":{"color":{"field":"s","type":"nominal","legend":null}}},
     {"transform":[{"filter":"datum.p=='i' && isValid(datum.lo)"}],"mark":{"type":"rule","strokeWidth":1.5},"encoding":{"y":{"field":"lo","type":"quantitative"},"y2":{"field":"hi"},"color":{"field":"s","type":"nominal","legend":null}}},
     {"transform":[{"filter":"datum.p=='i' && isValid(datum.lo)"}],"mark":{"type":"tick","orient":"horizontal","size":12,"thickness":1.5},"encoding":{"y":{"field":"lo","type":"quantitative"},"color":{"field":"s","type":"nominal","legend":null}}},
     {"transform":[{"filter":"datum.p=='i' && isValid(datum.lo)"}],"mark":{"type":"tick","orient":"horizontal","size":12,"thickness":1.5},"encoding":{"y":{"field":"hi","type":"quantitative"},"color":{"field":"s","type":"nominal","legend":null}}},
     {"transform":[{"filter":"datum.p=='i'"}],"mark":{"type":"point","filled":true,"size":125,"stroke":"black","strokeWidth":1.5,"opacity":1},"encoding":{"fill":{"field":"s","type":"nominal","legend":null},"shape":{"field":"s","type":"nominal","legend":null},"order":{"field":"s","type":"ordinal","sort":"descending"}}}
   ]},
  {"width":52,"height":194,"data":{"values":[]},"mark":"point"},
  {"width":88,"height":194,"data":{"values":[]},"mark":"point","title":{"text":"j","anchor":"start","fontSize":27,"fontWeight":"bold","offset":26}},
  {"width":290,"height":194,"title":{"text":"Mixed shedding group","offset":6},"data":{"name":"ct"},
   "encoding":{"x":{"field":"h","type":"quantitative","scale":{"domain":[0,75]},"axis":{"values":[6,24,48,72],"title":"Hours"}},"y":{"field":"ct","type":"quantitative","scale":{"domain":[20,41],"reverse":true,"nice":false,"zero":false},"axis":{"values":[20,25,30,35,40],"title":"Ct value"}}},
   "layer":[
     {"data":{"values":[{}]},"mark":{"type":"rule","strokeDash":[2,2],"strokeWidth":1.5,"color":"black"},"encoding":{"x":{"datum":0},"x2":{"datum":75},"y":{"datum":40}}},
     {"transform":[{"filter":"datum.p=='j'"}],"mark":{"type":"line","strokeWidth":2.5},"encoding":{"color":{"field":"s","type":"nominal","legend":null}}},
     {"transform":[{"filter":"datum.p=='j' && isValid(datum.lo)"}],"mark":{"type":"rule","strokeWidth":1.5},"encoding":{"y":{"field":"lo","type":"quantitative"},"y2":{"field":"hi"},"color":{"field":"s","type":"nominal","legend":null}}},
     {"transform":[{"filter":"datum.p=='j' && isValid(datum.lo)"}],"mark":{"type":"tick","orient":"horizontal","size":12,"thickness":1.5},"encoding":{"y":{"field":"lo","type":"quantitative"},"color":{"field":"s","type":"nominal","legend":null}}},
     {"transform":[{"filter":"datum.p=='j' && isValid(datum.lo)"}],"mark":{"type":"tick","orient":"horizontal","size":12,"thickness":1.5},"encoding":{"y":{"field":"hi","type":"quantitative"},"color":{"field":"s","type":"nominal","legend":null}}},
     {"transform":[{"filter":"datum.p=='j'"}],"mark":{"type":"point","filled":true,"size":125,"stroke":"black","strokeWidth":1.5,"opacity":1},"encoding":{"fill":{"field":"s","type":"nominal","legend":null},"shape":{"field":"s","type":"nominal","legend":null},"order":{"field":"s","type":"ordinal","sort":"descending"}}}
   ]},
  {"width":58,"height":194,"data":{"values":[]},"mark":"point"},
  {"width":88,"height":194,"data":{"values":[]},"mark":"point","title":{"text":"k","anchor":"start","fontSize":27,"fontWeight":"bold","offset":26}},
  {"width":290,"height":194,"title":{"text":"Wild-type-select group","offset":6},"data":{"name":"ct"},
   "encoding":{"x":{"field":"h","type":"quantitative","scale":{"domain":[0,75]},"axis":{"values":[6,24,48,72],"title":"Hours"}},"y":{"field":"ct","type":"quantitative","scale":{"domain":[20,41],"reverse":true,"nice":false,"zero":false},"axis":{"values":[20,25,30,35,40],"title":"Ct value"}}},
   "layer":[
     {"data":{"values":[{}]},"mark":{"type":"rule","strokeDash":[2,2],"strokeWidth":1.5,"color":"black"},"encoding":{"x":{"datum":0},"x2":{"datum":75},"y":{"datum":40}}},
     {"transform":[{"filter":"datum.p=='k'"}],"mark":{"type":"line","strokeWidth":2.5},"encoding":{"color":{"field":"s","type":"nominal","legend":null}}},
     {"transform":[{"filter":"datum.p=='k' && isValid(datum.lo)"}],"mark":{"type":"rule","strokeWidth":1.5},"encoding":{"y":{"field":"lo","type":"quantitative"},"y2":{"field":"hi"},"color":{"field":"s","type":"nominal","legend":null}}},
     {"transform":[{"filter":"datum.p=='k' && isValid(datum.lo)"}],"mark":{"type":"tick","orient":"horizontal","size":12,"thickness":1.5},"encoding":{"y":{"field":"lo","type":"quantitative"},"color":{"field":"s","type":"nominal","legend":null}}},
     {"transform":[{"filter":"datum.p=='k' && isValid(datum.lo)"}],"mark":{"type":"tick","orient":"horizontal","size":12,"thickness":1.5},"encoding":{"y":{"field":"hi","type":"quantitative"},"color":{"field":"s","type":"nominal","legend":null}}},
     {"transform":[{"filter":"datum.p=='k'"}],"mark":{"type":"point","filled":true,"size":125,"stroke":"black","strokeWidth":1.5,"opacity":1},"encoding":{"fill":{"field":"s","type":"nominal","legend":null},"shape":{"field":"s","type":"nominal","legend":null},"order":{"field":"s","type":"ordinal","sort":"descending"}}}
   ]},
  {"width":61,"height":194,"data":{"values":[]},"mark":"point"},
  {"width":116,"height":194,"data":{"values":[]},"mark":"point","title":{"text":"l","anchor":"start","fontSize":27,"fontWeight":"bold","offset":26}},
  {"width":290,"height":194,"title":{"text":"No serum","offset":6},"data":{"name":"ct"},
   "encoding":{"x":{"field":"h","type":"quantitative","scale":{"domain":[0,75]},"axis":{"values":[6,24,48,72],"title":"Hours"}},"y":{"field":"ct","type":"quantitative","scale":{"domain":[20,41],"reverse":true,"nice":false,"zero":false},"axis":{"values":[20,25,30,35,40],"title":"Ct value"}}},
   "layer":[
     {"data":{"values":[{}]},"mark":{"type":"rule","strokeDash":[2,2],"strokeWidth":1.5,"color":"black"},"encoding":{"x":{"datum":0},"x2":{"datum":75},"y":{"datum":40}}},
     {"transform":[{"filter":"datum.p=='l'"}],"mark":{"type":"line","strokeWidth":2.5},"encoding":{"color":{"field":"s","type":"nominal","legend":{"title":null,"orient":"none","legendX":164.7,"legendY":99,"symbolType":"stroke","symbolSize":484,"symbolStrokeWidth":2.5,"rowPadding":7,"labelExpr":"''","labelOffset":15}}}},
     {"transform":[{"filter":"datum.p=='l' && isValid(datum.lo)"}],"mark":{"type":"rule","strokeWidth":1.5},"encoding":{"y":{"field":"lo","type":"quantitative"},"y2":{"field":"hi"},"color":{"field":"s","type":"nominal"}}},
     {"transform":[{"filter":"datum.p=='l' && isValid(datum.lo)"}],"mark":{"type":"tick","orient":"horizontal","size":12,"thickness":1.5},"encoding":{"y":{"field":"lo","type":"quantitative"},"color":{"field":"s","type":"nominal"}}},
     {"transform":[{"filter":"datum.p=='l' && isValid(datum.lo)"}],"mark":{"type":"tick","orient":"horizontal","size":12,"thickness":1.5},"encoding":{"y":{"field":"hi","type":"quantitative"},"color":{"field":"s","type":"nominal"}}},
     {"transform":[{"filter":"datum.p=='l'"}],"mark":{"type":"point","filled":true,"size":125,"stroke":"black","strokeWidth":1.5,"opacity":1},"encoding":{
        "fill":{"field":"s","type":"nominal","legend":{"title":null,"orient":"none","legendX":170,"legendY":101,"labelExpr":"datum.label == 'A388' ? 'Wild type (A388)' : 'Mutant (V388)'","symbolSize":130,"rowPadding":11,"labelOffset":15,"encode":{"symbols":{"stroke":{"value":"black"},"strokeWidth":{"value":1.4}}}}},
        "shape":{"field":"s","type":"nominal","legend":{"title":null,"orient":"none","legendX":170,"legendY":101,"labelExpr":"datum.label == 'A388' ? 'Wild type (A388)' : 'Mutant (V388)'","symbolSize":130,"rowPadding":11,"labelOffset":15,"encode":{"symbols":{"stroke":{"value":"black"},"strokeWidth":{"value":1.4}}}}},
        "order":{"field":"s","type":"ordinal","sort":"descending"}}}
   ]}
]
}
